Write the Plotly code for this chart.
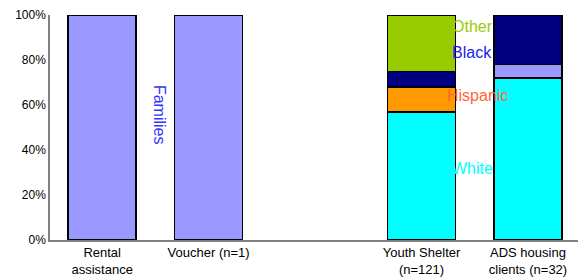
import plotly.graph_objects as go

x_pos = [0, 1, 3, 4]
tick_labels = ["Rental<br>assistance", "Voucher (n=1)", "Youth Shelter<br>(n=121)", "ADS housing<br>clients (n=32)"]

white = [0, 0, 57, 72]
hispanic = [0, 0, 11, 0]
families = [100, 100, 0, 6]
black = [0, 0, 7, 22]
other = [0, 0, 25, 0]

series = [
    ("White", white, "#00ffff"),
    ("Hispanic", hispanic, "#ff9900"),
    ("Families", families, "#9999ff"),
    ("Black", black, "#000080"),
    ("Other", other, "#99cc00"),
]

fig = go.Figure()
for name, vals, col in series:
    fig.add_trace(go.Bar(
        x=x_pos, y=vals, name=name, width=0.64,
        marker=dict(color=col, line=dict(color="black", width=1.5)),
        showlegend=False,
    ))

font_family = "Arial, Liberation Sans, sans-serif"
labels = [
    ("Other", 3.27, 94.7, "#99cc00"),
    ("Black", 3.27, 83.5, "#2222ee"),
    ("Hispanic", 3.22, 64.4, "#ff6633"),
    ("White", 3.27, 32, "#00ffff"),
]
for txt, xx, yy, col in labels:
    fig.add_annotation(x=xx, y=yy, text=txt, showarrow=False, xanchor="left",
                       font=dict(family=font_family, size=16, color=col))
fig.add_annotation(x=0.545, y=55.5, text="Families", showarrow=False, textangle=90,
                   font=dict(family=font_family, size=16, color="#3333ff"))

fig.update_layout(
    barmode="stack",
    width=578, height=280,
    margin=dict(l=50, r=0, t=15, b=40),
    paper_bgcolor="white", plot_bgcolor="white",
    font=dict(family=font_family, color="black"),
    xaxis=dict(range=[-0.49, 4.47], tickvals=x_pos, ticktext=tick_labels,
               showline=True, linecolor="#808080", linewidth=1.5, showgrid=False,
               zeroline=False, ticks="", tickfont=dict(size=13)),
    yaxis=dict(range=[0, 100], dtick=20, ticksuffix="%", showline=True,
               linecolor="#808080", linewidth=1.5, showgrid=False, zeroline=False,
               ticks="", tickfont=dict(size=12)),
)
fig.write_html("out.html", config={"displayModeBar": False},
               post_script="document.body.style.margin='0';document.body.style.overflow='hidden';")
